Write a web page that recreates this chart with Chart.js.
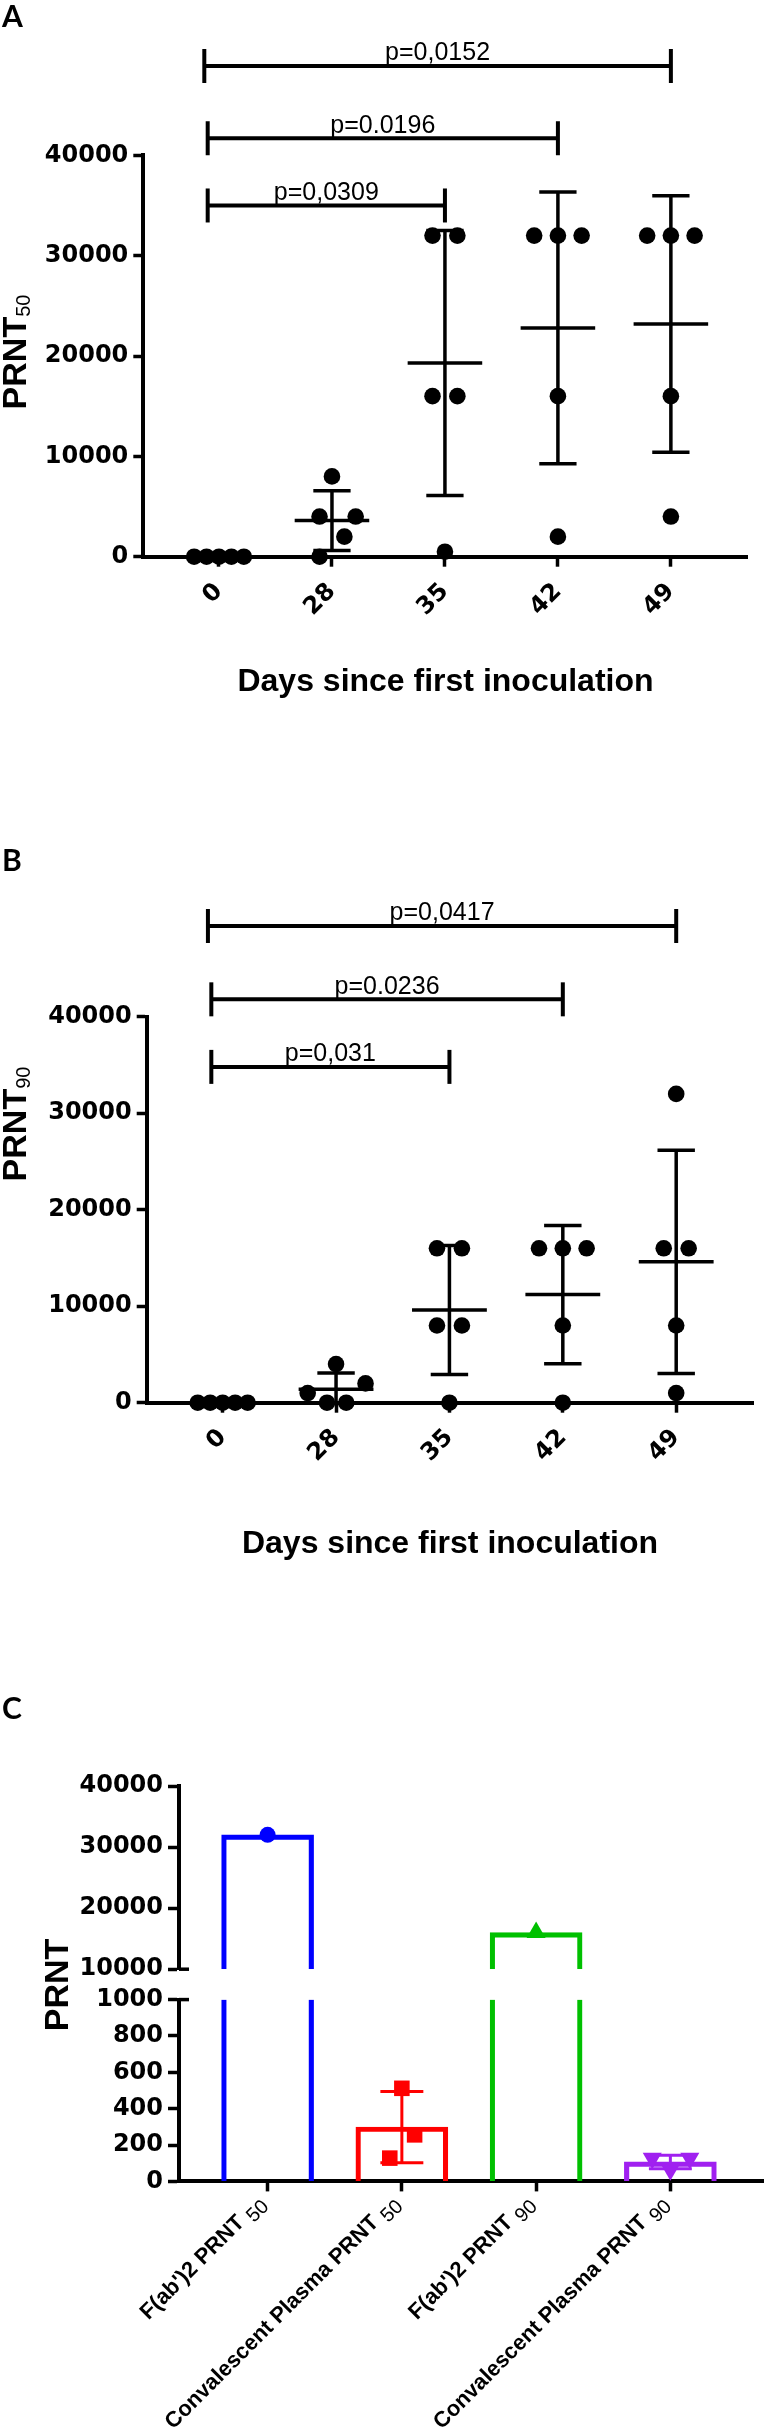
<!DOCTYPE html>
<html>
<head>
<meta charset="utf-8">
<title>PRNT titres</title>
<script src="https://cdn.jsdelivr.net/npm/chart.js@4.4.1/dist/chart.umd.min.js"></script>
<style>
  body { margin: 0; background: #fff; }
  .panel { position: absolute; left: 0; }
  #boxA { top: 0; }
  #boxB { top: 760px; }
  #boxC { top: 1580px; }
</style>
</head>
<body>
<div class="panel" id="boxA"><canvas id="chartA" width="774" height="760"></canvas></div>
<div class="panel" id="boxB"><canvas id="chartB" width="774" height="820"></canvas></div>
<div class="panel" id="boxC"><canvas id="chartC" width="774" height="854"></canvas></div>
<script>
// ---------- data ----------
const days = ['0', '28', '35', '42', '49'];

// A: PRNT50 per animal, one row per day
const prnt50 = [
  [0, 0, 0, 0, 0],
  [8000, 4000, 4000, 2000, 0],
  [32000, 32000, 16000, 16000, 500],
  [32000, 32000, 32000, 16000, 2000],
  [32000, 32000, 32000, 16000, 4000]
];
const prnt50Mean = [0, 3600, 19300, 22800, 23200];
const prnt50Sd = [0, 2970, 13210, 13540, 12780];
const prnt50P = ['p=0,0309', 'p=0.0196', 'p=0,0152'];
const prnt50Pairs = [[0, 2], [0, 3], [0, 4]];

// B: PRNT90
const prnt90 = [
  [0, 0, 0, 0, 0],
  [4000, 2000, 1000, 0, 0],
  [16000, 16000, 8000, 8000, 0],
  [16000, 16000, 16000, 8000, 0],
  [32000, 16000, 16000, 8000, 1000]
];
const prnt90Mean = [0, 1400, 9600, 11200, 14600];
const prnt90Sd = [0, 1670, 6690, 7160, 11570];
const prnt90P = ['p=0,031', 'p=0.0236', 'p=0,0417'];
const prnt90Pairs = [[0, 2], [0, 3], [0, 4]];

// C: F(ab')2 vs convalescent plasma
const groupsC = ["F(ab')2 PRNT", 'Convalescent Plasma PRNT', "F(ab')2 PRNT", 'Convalescent Plasma PRNT'];
const subsC = ['50', '50', '90', '90'];
const pointsC = [[32000], [512, 256, 128], [16000], [128, 128, 64]];
const meanC = [32000, 299, 16000, 107];
const sdC = [0, 196, 0, 37];

// ---------- layout / style ----------
// horizontal spread of the dots, in fractions of one category step
const swarmA = [[-0.22, -0.11, 0, 0.11, 0.22], [0, -0.11, 0.21, 0.11, -0.11], [-0.11, 0.11, -0.11, 0.11, 0], [-0.21, 0, 0.21, 0, 0], [-0.21, 0, 0.21, 0, 0]];
const swarmB = [[-0.22, -0.11, 0, 0.11, 0.22], [0, 0.26, -0.25, -0.08, 0.09], [-0.11, 0.11, -0.11, 0.11, 0], [-0.21, 0, 0.21, 0, 0], [0, -0.11, 0.11, 0, 0]];
const swarmC = [[0], [0, 0.095, -0.09], [0], [-0.135, 0.145, 0]];
const colorsC = ['#0000ff', '#ff0000', '#00c000', '#a020f0'];
const markersC = ['circle', 'rect', 'triangle', 'triangle'];
const markerRotC = [0, 0, 0, 180];
const markerSizeC = [8, 11, 11, 11];

const TICKFONT = { family: 'DejaVu Sans', size: 24, weight: 'bold' };
const XTICKFONT = { family: 'DejaVu Sans', size: 24, weight: 'bold' };
const TITLEFONT = { family: 'Liberation Sans', size: 32, weight: 'bold' };
const plain = v => String(v);

function seg(ctx, x1, y1, x2, y2) {
  ctx.beginPath(); ctx.moveTo(x1, y1); ctx.lineTo(x2, y2); ctx.stroke();
}

function yTitle(ctx, main, sub, cx, cy, size) {
  ctx.save();
  ctx.translate(cx, cy);
  ctx.rotate(-Math.PI / 2);
  ctx.fillStyle = '#000';
  ctx.textBaseline = 'alphabetic';
  ctx.textAlign = 'left';
  ctx.font = 'bold ' + size + 'px "Liberation Sans"';
  const wm = ctx.measureText(main).width;
  ctx.font = '20px "Liberation Sans"';
  const ws = sub ? ctx.measureText(sub).width : 0;
  const x0 = -(wm + ws) / 2, base = size * 0.36;
  ctx.font = 'bold ' + size + 'px "Liberation Sans"';
  ctx.fillText(main, x0, base);
  if (sub) {
    ctx.font = '20px "Liberation Sans"';
    ctx.fillText(sub, x0 + wm, base + 4);
  }
  ctx.restore();
}

function panelLetter(ctx, t, x, y) {
  ctx.save();
  ctx.fillStyle = '#000';
  ctx.font = 'bold 30px Lato';
  ctx.textBaseline = 'middle';
  ctx.fillText(t, x, y);
  ctx.restore();
}

// mean +/- SD, significance brackets, axis title, panel letter
function dotExtras(o) {
  return {
    id: 'dotExtras',
    beforeDatasetsDraw(chart) {
      const { ctx, scales: { x, y } } = chart;
      ctx.save();
      ctx.strokeStyle = '#000';
      ctx.lineWidth = 3.5;
      o.mean.forEach((m, i) => {
        const cx = x.getPixelForValue(i);
        const ym = y.getPixelForValue(m);
        seg(ctx, x.getPixelForValue(i - 0.33), ym, x.getPixelForValue(i + 0.33), ym);
        if (o.sd[i] > 0) {
          const hi = m + o.sd[i], lo = m - o.sd[i];
          const yh = y.getPixelForValue(hi), yl = y.getPixelForValue(Math.max(lo, 0));
          seg(ctx, cx, yh, cx, yl);
          seg(ctx, x.getPixelForValue(i - 0.165), yh, x.getPixelForValue(i + 0.165), yh);
          if (lo > 0) seg(ctx, x.getPixelForValue(i - 0.165), yl, x.getPixelForValue(i + 0.165), yl);
        }
      });
      ctx.restore();
    },
    afterDraw(chart) {
      const { ctx, scales: { x, y } } = chart;
      ctx.save();
      ctx.strokeStyle = '#000';
      ctx.fillStyle = '#000';
      ctx.lineWidth = 4;
      ctx.font = '25px "Liberation Sans"';
      ctx.textAlign = 'center';
      ctx.textBaseline = 'alphabetic';
      o.pairs.forEach(([a, b], k) => {
        const yy = y.getPixelForValue(o.levels[k]);
        const x1 = x.getPixelForValue(a + o.starts[k]), x2 = x.getPixelForValue(b);
        seg(ctx, x1, yy, x2, yy);
        seg(ctx, x1, yy - 17, x1, yy + 17);
        seg(ctx, x2, yy - 17, x2, yy + 17);
        ctx.fillText(o.p[k], (x1 + x2) / 2, yy - 5.5);
      });
      ctx.restore();
      yTitle(ctx, 'PRNT', o.sub, 14, o.titleY, 34);
      panelLetter(ctx, o.letter, 2, o.letterY);
    }
  };
}

function dotPanel(id, o) {
  const pts = o.values.flatMap((col, i) => col.map((v, j) => ({ x: i + o.swarm[i][j], y: v })));
  return new Chart(document.getElementById(id), {
    type: 'scatter',
    data: {
      datasets: [{
        data: pts,
        pointRadius: 8.3,
        pointHoverRadius: 8.3,
        backgroundColor: '#000',
        borderWidth: 0,
        clip: false
      }]
    },
    options: {
      responsive: false,
      animation: false,
      events: [],
      layout: { padding: { left: 0, top: o.top, right: 774 - o.right, bottom: o.h - o.bottom - o.xh } },
      plugins: { legend: { display: false }, tooltip: { enabled: false } },
      scales: {
        x: {
          type: 'linear',
          min: -0.67,
          max: 4.68,
          afterBuildTicks: s => { s.ticks = days.map((d, i) => ({ value: i })); },
          ticks: {
            callback: v => days[v],
            autoSkip: false,
            minRotation: 45,
            maxRotation: 45,
            color: '#000',
            font: XTICKFONT,
            padding: 11
          },
          grid: { drawOnChartArea: false, drawTicks: true, tickLength: 10, tickWidth: 3.5, color: '#000' },
          border: { display: true, color: '#000', width: 4 },
          title: {
            display: true,
            text: 'Days since first inoculation',
            color: '#000',
            font: TITLEFONT,
            padding: { top: 0, bottom: 0 }
          },
          afterFit: s => { s.height = o.xh; }
        },
        y: {
          min: 0,
          max: 40000,
          ticks: { stepSize: 10000, callback: plain, color: '#000', font: TICKFONT, padding: 5 },
          grid: { drawOnChartArea: false, drawTicks: true, tickLength: 10, tickWidth: 3.5, color: '#000' },
          border: { display: true, color: '#000', width: 4 },
          afterFit: s => { s.width = o.left; }
        }
      }
    },
    plugins: [dotExtras(o)]
  });
}

// panel A (canvas top = 0)
dotPanel('chartA', {
  values: prnt50, swarm: swarmA, mean: prnt50Mean, sd: prnt50Sd,
  p: prnt50P, pairs: prnt50Pairs, levels: [35000, 41700, 48900], starts: [-0.1, -0.1, -0.13],
  left: 143.3, right: 747.7, top: 155.3, bottom: 556.7, h: 760, xh: 144.5,
  sub: '50', titleY: 352, letter: 'A', letterY: 17
});

// panel B (canvas top = 760)
dotPanel('chartB', {
  values: prnt90, swarm: swarmB, mean: prnt90Mean, sd: prnt90Sd,
  p: prnt90P, pairs: prnt90Pairs, levels: [34800, 41800, 49400], starts: [-0.1, -0.1, -0.13],
  left: 146.7, right: 753.3, top: 256.7, bottom: 642.7, h: 820, xh: 160.5,
  sub: '90', titleY: 364, letter: 'B', letterY: 101
});

// ---------- panel C: bars with a broken y axis ----------
const BREAK_LO = 1000, BREAK_HI = 10000;

const extrasC = {
  id: 'extrasC',
  beforeDatasetsDraw(chart) {
    const { ctx, scales: { x, yBot } } = chart;
    ctx.save();
    ctx.lineWidth = 3;
    meanC.forEach((m, i) => {
      if (!sdC[i]) return;
      ctx.strokeStyle = colorsC[i];
      const cx = x.getPixelForValue(i);
      const yh = yBot.getPixelForValue(m + sdC[i]), yl = yBot.getPixelForValue(m - sdC[i]);
      seg(ctx, cx, yh, cx, yl);
      seg(ctx, x.getPixelForValue(i - 0.16), yh, x.getPixelForValue(i + 0.16), yh);
      seg(ctx, x.getPixelForValue(i - 0.16), yl, x.getPixelForValue(i + 0.16), yl);
    });
    ctx.restore();
  },
  afterDraw(chart) {
    const { ctx, scales: { x, yBot, yTop } } = chart;
    const ax = chart.chartArea.left;
    ctx.save();
    ctx.strokeStyle = '#000';
    ctx.lineWidth = 3.5;
    // break marks on the y axis
    seg(ctx, ax, yTop.getPixelForValue(BREAK_HI), ax + 10, yTop.getPixelForValue(BREAK_HI));
    seg(ctx, ax, yBot.getPixelForValue(BREAK_LO), ax + 10, yBot.getPixelForValue(BREAK_LO));
    // rotated category labels with subscripts
    ctx.fillStyle = '#000';
    ctx.textAlign = 'right';
    ctx.textBaseline = 'alphabetic';
    groupsC.forEach((g, i) => {
      ctx.save();
      ctx.translate(x.getPixelForValue(i) - 2, x.top + 22);
      ctx.rotate(-Math.PI / 4);
      ctx.font = '20px "Liberation Sans"';
      ctx.fillText(subsC[i], 0, 6);
      const ws = ctx.measureText(subsC[i]).width;
      ctx.font = 'bold 22px "Liberation Sans"';
      ctx.fillText(g + ' ', -ws, 0);
      ctx.restore();
    });
    ctx.restore();
    yTitle(ctx, 'PRNT', '', 56, 405, 34);
    panelLetter(ctx, 'C', 2, 129);
  }
};

const datasetsC = [
  {
    type: 'bar', yAxisID: 'yTop', grouped: false, barThickness: 92, order: 2,
    data: meanC.map((m, i) => ({ x: i, y: m > BREAK_HI ? [BREAK_HI, m] : null })),
    backgroundColor: 'rgba(0,0,0,0)', borderColor: colorsC, borderSkipped: false,
    borderWidth: { left: 4.5, right: 4.5, top: 4.5, bottom: 0 }
  },
  {
    type: 'bar', yAxisID: 'yBot', grouped: false, barThickness: 92, order: 2,
    data: meanC.map((m, i) => ({ x: i, y: [0, Math.min(m, BREAK_LO)] })),
    backgroundColor: 'rgba(0,0,0,0)', borderColor: colorsC, borderSkipped: false,
    borderWidth: c => ({ left: 4.5, right: 4.5, top: meanC[c.dataIndex] > BREAK_LO ? 0 : 4.5, bottom: 0 })
  }
];
pointsC.forEach((vals, i) => {
  ['yTop', 'yBot'].forEach(axis => {
    const d = vals.map((v, j) => ({ x: i + swarmC[i][j], y: v }))
      .filter(p => (axis === 'yTop' ? p.y > BREAK_HI : p.y <= BREAK_LO));
    if (!d.length) return;
    datasetsC.push({
      type: 'scatter', yAxisID: axis, order: 0, data: d, clip: false,
      pointStyle: markersC[i], rotation: markerRotC[i],
      pointRadius: markerSizeC[i], pointHoverRadius: markerSizeC[i],
      backgroundColor: colorsC[i], borderWidth: 0
    });
  });
});

const yCommon = {
  type: 'linear',
  position: 'left',
  stack: 'c',
  grid: { drawOnChartArea: false, drawTicks: true, tickLength: 11, tickWidth: 3.5, color: '#000' },
  border: { display: true, color: '#000', width: 4 },
  afterFit: s => { s.width = 179; }
};

new Chart(document.getElementById('chartC'), {
  type: 'bar',
  data: { datasets: datasetsC },
  options: {
    responsive: false,
    animation: false,
    events: [],
    layout: { padding: { left: 0, top: 206, right: 0, bottom: 52.6 } },
    plugins: { legend: { display: false }, tooltip: { enabled: false } },
    scales: {
      x: {
        type: 'linear',
        offset: false,
        min: -0.66,
        max: 3.69,
        afterBuildTicks: s => { s.ticks = groupsC.map((g, i) => ({ value: i })); },
        ticks: { display: false },
        grid: { offset: false, drawOnChartArea: false, drawTicks: true, tickLength: 10, tickWidth: 3.5, color: '#000' },
        border: { display: true, color: '#000', width: 4 },
        afterFit: s => { s.height = 200; }
      },
      yBot: Object.assign({}, yCommon, {
        stackWeight: 182, min: 0, max: BREAK_LO,
        ticks: { stepSize: 200, autoSkip: false, callback: plain, color: '#000', font: TICKFONT, padding: 5 }
      }),
      yGap: { type: 'linear', position: 'left', stack: 'c', stackWeight: 30.4, display: false },
      yTop: Object.assign({}, yCommon, {
        stackWeight: 183.4, min: BREAK_HI, max: 40000,
        ticks: { stepSize: 10000, autoSkip: false, callback: plain, color: '#000', font: TICKFONT, padding: 5 }
      })
    }
  },
  plugins: [extrasC]
});
</script>
</body>
</html>
